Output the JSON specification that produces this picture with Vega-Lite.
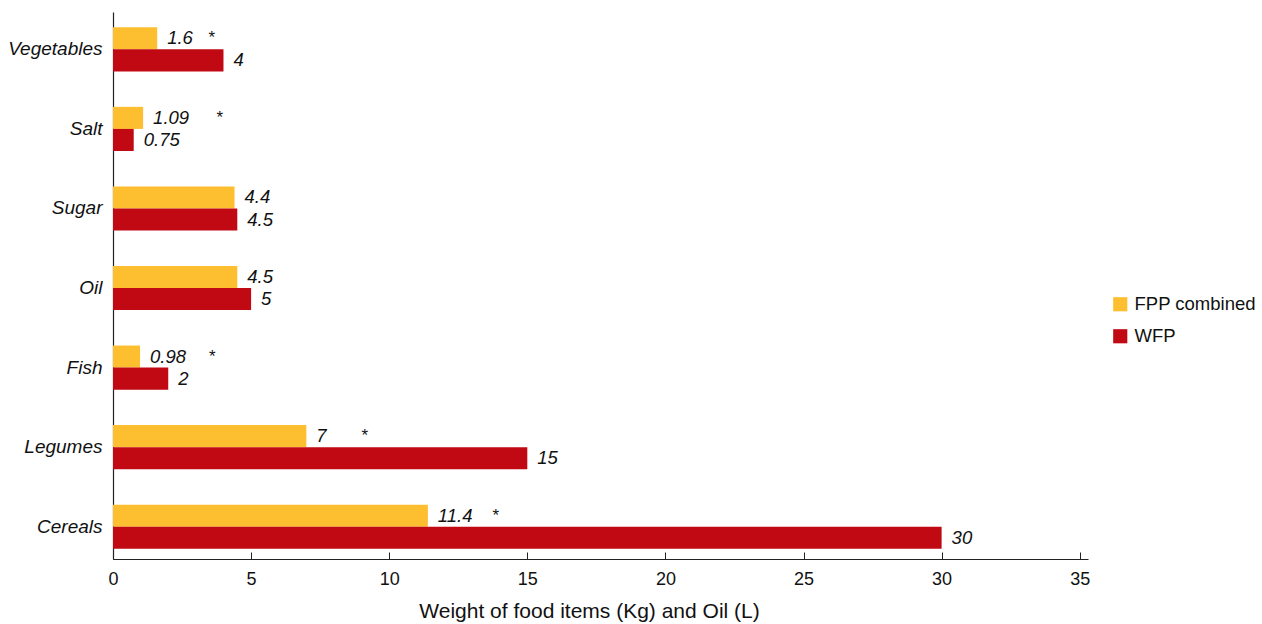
{
  "$schema": "https://vega.github.io/schema/vega-lite/v6.json",
  "autosize": "none",
  "padding": {"left": 113, "top": 12, "right": 174, "bottom": 65},
  "width": 975,
  "height": 547,
  "background": "white",
  "config": {
    "view": {"stroke": null},
    "font": "Liberation Sans",
    "axis": {"domainColor": "#222", "labelColor": "#111", "titleColor": "#111", "grid": false}
  },
  "data": {
    "values": [
      {"item": "Vegetables", "source": "FPP combined", "value": 1.6, "label": "1.6", "star": "*", "star_x": 3.58},
      {"item": "Vegetables", "source": "WFP", "value": 4, "label": "4"},
      {"item": "Salt", "source": "FPP combined", "value": 1.09, "label": "1.09", "star": "*", "star_x": 3.87},
      {"item": "Salt", "source": "WFP", "value": 0.75, "label": "0.75"},
      {"item": "Sugar", "source": "FPP combined", "value": 4.4, "label": "4.4"},
      {"item": "Sugar", "source": "WFP", "value": 4.5, "label": "4.5"},
      {"item": "Oil", "source": "FPP combined", "value": 4.5, "label": "4.5"},
      {"item": "Oil", "source": "WFP", "value": 5, "label": "5"},
      {"item": "Fish", "source": "FPP combined", "value": 0.98, "label": "0.98", "star": "*", "star_x": 3.6},
      {"item": "Fish", "source": "WFP", "value": 2, "label": "2"},
      {"item": "Legumes", "source": "FPP combined", "value": 7, "label": "7", "star": "*", "star_x": 9.12},
      {"item": "Legumes", "source": "WFP", "value": 15, "label": "15"},
      {"item": "Cereals", "source": "FPP combined", "value": 11.4, "label": "11.4", "star": "*", "star_x": 13.86},
      {"item": "Cereals", "source": "WFP", "value": 30, "label": "30"}
    ]
  },
  "encoding": {
    "y": {
      "field": "item",
      "type": "nominal",
      "sort": ["Vegetables", "Salt", "Sugar", "Oil", "Fish", "Legumes", "Cereals"],
      "scale": {"paddingInner": 0.445, "paddingOuter": 0.16, "align": 0.6},
      "axis": {"title": null, "ticks": false, "labelFontSize": 19, "labelFontStyle": "italic", "labelPadding": 11, "domainWidth": 1.2}
    },
    "yOffset": {"field": "source", "type": "nominal", "sort": ["FPP combined", "WFP"]}
  },
  "layer": [
    {
      "mark": {"type": "bar"},
      "encoding": {
        "x": {
          "field": "value",
          "type": "quantitative",
          "scale": {"domain": [0, 35.3], "nice": false},
          "axis": {
            "values": [0, 5, 10, 15, 20, 25, 30, 35],
            "title": "Weight of food items (Kg) and Oil (L)",
            "titleFontSize": 21,
            "titleFontWeight": "normal",
            "titlePadding": 12,
            "titleX": 476,
            "labelFontSize": 18,
            "labelFlush": false,
            "tickSize": -7,
            "tickColor": "#222",
            "labelPadding": 18,
            "domainWidth": 1.2
          }
        },
        "color": {
          "field": "source",
          "type": "nominal",
          "sort": ["FPP combined", "WFP"],
          "scale": {"domain": ["FPP combined", "WFP"], "range": ["#FDBE2F", "#C00913"]},
          "legend": {
            "title": null,
            "orient": "none",
            "legendX": 998,
            "legendY": 283,
            "symbolType": "square",
            "symbolSize": 200,
            "symbolStrokeWidth": 0,
            "labelFontSize": 18.5,
            "labelColor": "#111",
            "rowPadding": 13,
            "labelOffset": 5
          }
        }
      }
    },
    {
      "mark": {"type": "text", "align": "left", "baseline": "middle", "dx": 10, "fontSize": 18.5, "fontStyle": "italic", "color": "#111"},
      "encoding": {
        "x": {"field": "value", "type": "quantitative"},
        "text": {"field": "label"}
      }
    },
    {
      "mark": {"type": "text", "align": "center", "baseline": "middle", "fontSize": 17, "color": "#111", "dy": 0},
      "encoding": {
        "x": {"field": "star_x", "type": "quantitative"},
        "text": {"field": "star"}
      }
    }
  ]
}
